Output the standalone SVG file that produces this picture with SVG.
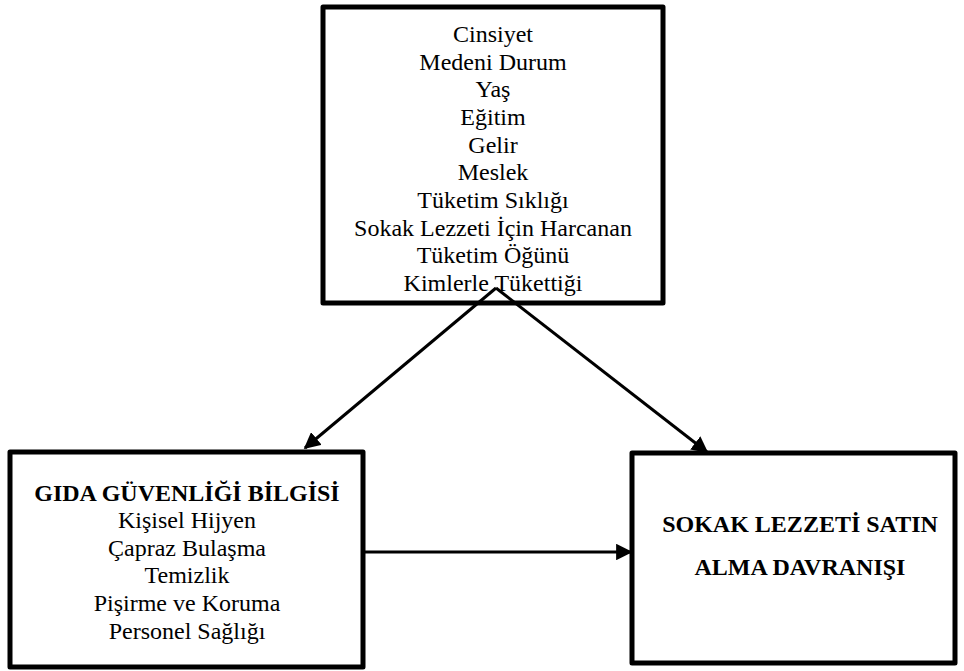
<svg xmlns="http://www.w3.org/2000/svg" width="964" height="671" viewBox="0 0 964 671">
<style>
.box{fill:#fff;stroke:#000;stroke-width:5;stroke-linejoin:round}
.t{font-family:"Liberation Serif","Times New Roman",serif;font-size:24px;fill:#000;text-anchor:middle}
.b{font-weight:bold}
.c{stroke:#000;stroke-width:3;fill:none}
</style>
<defs>
<marker id="ah" viewBox="0 0 10 10" refX="9" refY="5" markerWidth="5.5" markerHeight="5.5" orient="auto" markerUnits="strokeWidth">
<path d="M0,0 L10,5 L0,10 Z" fill="#000"/>
</marker>
</defs>
<g id="demografik">
<rect class="box" x="323" y="7" width="340" height="296"/>
<text class="t" x="493" y="42">Cinsiyet</text>
<text class="t" x="493" y="70">Medeni Durum</text>
<text class="t" x="493" y="97">Yaş</text>
<text class="t" x="493" y="125">Eğitim</text>
<text class="t" x="493" y="153">Gelir</text>
<text class="t" x="493" y="180">Meslek</text>
<text class="t" x="493" y="208">Tüketim Sıklığı</text>
<text class="t" x="493" y="236">Sokak Lezzeti İçin Harcanan</text>
<text class="t" x="493" y="263">Tüketim Öğünü</text>
<text class="t" x="493" y="291">Kimlerle Tükettiği</text>
</g>
<g id="gida">
<rect class="box" x="10" y="452" width="353" height="215"/>
<text class="t b" x="187" y="501">GIDA GÜVENLİĞİ BİLGİSİ</text>
<text class="t" x="187" y="528">Kişisel Hijyen</text>
<text class="t" x="187" y="556">Çapraz Bulaşma</text>
<text class="t" x="187" y="583">Temizlik</text>
<text class="t" x="187" y="611">Pişirme ve Koruma</text>
<text class="t" x="187" y="639">Personel Sağlığı</text>
</g>
<g id="satin">
<rect class="box" x="632" y="453" width="323" height="210"/>
<text class="t b" x="800" y="532">SOKAK LEZZETİ SATIN</text>
<text class="t b" x="800" y="575">ALMA DAVRANIŞI</text>
</g>
<g id="connectors">
<line class="c" x1="496" y1="288" x2="305" y2="448" marker-end="url(#ah)"/>
<line class="c" x1="496" y1="288" x2="707" y2="452" marker-end="url(#ah)"/>
<line class="c" x1="365" y1="552" x2="631" y2="552" marker-end="url(#ah)"/>
</g>
</svg>
